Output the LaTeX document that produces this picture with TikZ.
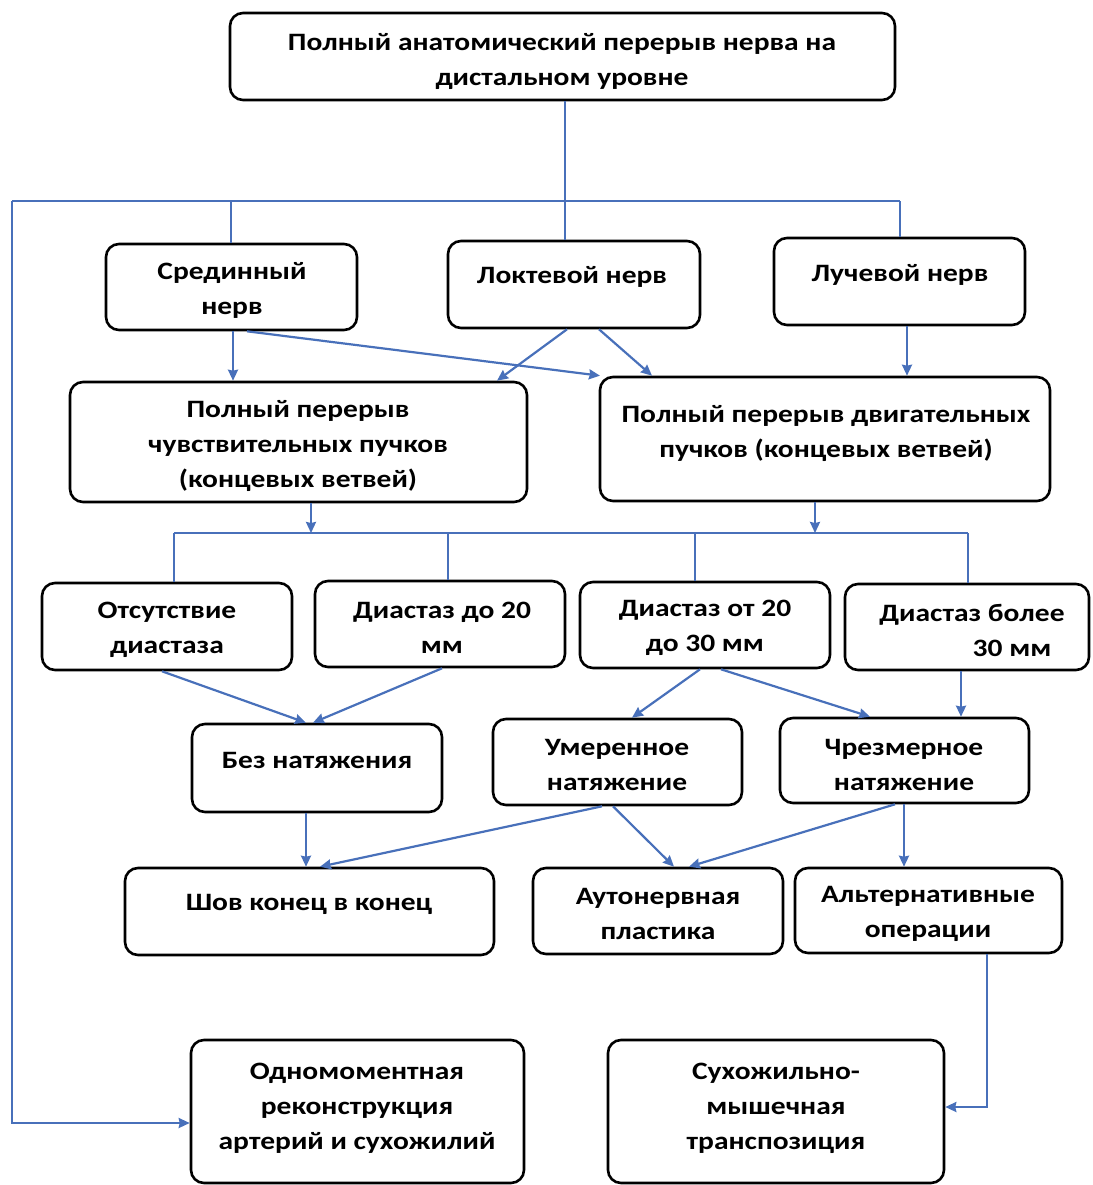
\documentclass[tikz,border=0pt]{standalone}
\usepackage{fontspec}
\setmainfont{Carlito}[FakeStretch=1.18]
\usetikzlibrary{arrows.meta}
\definecolor{conn}{RGB}{72,112,186}
\tikzset{
  box/.style={draw=black, line width=2.6pt, rounded corners=13pt, inner sep=0pt},
  txt/.style={align=center, inner sep=0pt, font=\bfseries\fontsize{25}{35}\selectfont},
  link/.style={draw=conn, line width=2.2pt},
  arr/.style={link, -{Stealth[length=11pt,width=10pt,inset=1pt]}}
}
\newcommand{\bx}[6]{% name, x1, y1, x2, y2
  \node[box, minimum width={#4-#2}, minimum height={#5-#3}] (#1) at ({(#2+#4)/2},{(#3+#5)/2}) {};}
\begin{document}
\begin{tikzpicture}[x=1pt,y=-1pt]
\useasboundingbox (0,0) rectangle (1092,1185);
% boxes
\bx{top}{230}{13}{895}{100}{}
\bx{sred}{106}{244}{357}{330}{}
\bx{lokt}{448}{241}{700}{328}{}
\bx{luch}{774}{238}{1025}{325}{}
\bx{sens}{70}{382}{527}{502}{}
\bx{mot}{600}{377}{1050}{501}{}
\bx{d0}{42}{583}{292}{670}{}
\bx{d20}{315}{581}{565}{667}{}
\bx{d2030}{580}{582}{830}{668}{}
\bx{d30}{845}{584}{1089}{670}{}
\bx{bez}{192}{724}{442}{812}{}
\bx{umer}{493}{719}{742}{805}{}
\bx{chrez}{780}{718}{1029}{803}{}
\bx{shov}{125}{868}{494}{955}{}
\bx{auto}{533}{868}{783}{954}{}
\bx{alt}{795}{868}{1062}{953}{}
\bx{odno}{191}{1040}{524}{1183}{}
\bx{suho}{608}{1040}{944}{1183}{}
% texts
\node[txt] (t-top) at (562,61) {Полный анатомический перерыв нерва на\\дистальном уровне};
\node[txt] (t-sred) at (232,290) {Срединный\\нерв};
\node[txt] (t-lokt) at (572,277) {Локтевой нерв};
\node[txt] (t-luch) at (900,275) {Лучевой нерв};
\node[txt] (t-sens) at (298,446) {Полный перерыв\\чувствительных пучков\\(концевых ветвей)};
\node[txt] (t-mot) at (826,433) {Полный перерыв двигательных\\пучков (концевых ветвей)};
\node[txt] (t-d0) at (167,630) {Отсутствие\\диастаза};
\node[txt] (t-d20) at (442,628) {Диастаз до 20\\мм};
\node[txt] (t-d2030) at (705,628) {Диастаз от 20\\до 30 мм};
\node[txt] (t-d30) at (972,630) {Диастаз более\\\hspace*{80pt}30 мм};
\node[txt] (t-bez) at (317,760) {Без натяжения};
\node[txt] (t-umer) at (617,765) {Умеренное\\натяжение};
\node[txt] (t-chrez) at (904,765) {Чрезмерное\\натяжение};
\node[txt] (t-shov) at (309,904) {Шов конец в конец};
\node[txt] (t-auto) at (658,914) {Аутонервная\\пластика};
\node[txt] (t-alt) at (928,914) {Альтернативные\\операции};
\node[txt] (t-odno) at (357,1108) {Одномоментная\\реконструкция\\артерий и сухожилий};
\node[txt] (t-suho) at (776,1108) {Сухожильно-\\мышечная\\транспозиция};
% level 1 distribution
\coordinate (h1l) at (12,201);
\coordinate (h1r) at (900,201);
\draw[link] (top.south -| 565,0) -- (565,201);
\draw[link] (h1l) -- (h1r);
\draw[link] (231,201) -- (sred.north -| 231,0);
\draw[link] (565,201) -- (lokt.north -| 565,0);
\draw[link] (h1r) -- (luch.north -| 900,0);
% left long connector
\coordinate (lc) at (12,1123);
\draw[arr] (h1l) -- (lc) -- (odno.west |- lc);
% level 2 -> 3
\draw[arr] (sred.south -| 233,0) -- (sens.north -| 233,0);
\draw[arr] (sred.south -| 247,0) -- (mot.north -| 600,0);
\draw[arr] (lokt.south -| 567,0) -- (sens.north -| 497,0);
\draw[arr] (lokt.south -| 599,0) -- (mot.north -| 652,0);
\draw[arr] (luch.south -| 907,0) -- (mot.north -| 907,0);
% level 3 -> distribution
\coordinate (h2l) at (174,533);
\coordinate (h2r) at (968,533);
\draw[arr] (sens.south -| 311,0) -- (311,533);
\draw[arr] (mot.south -| 815,0) -- (815,533);
\draw[link] (h2l) -- (h2r);
\draw[link] (h2l) -- (d0.north -| h2l);
\draw[link] (448,533) -- (d20.north -| 448,0);
\draw[link] (695,533) -- (d2030.north -| 695,0);
\draw[link] (h2r) -- (d30.north -| h2r);
% level 4 -> 5
\draw[arr] (d0.south -| 162,0) -- (bez.north -| 306,0);
\draw[arr] (d20.south -| 442,0) -- (bez.north -| 313,0);
\draw[arr] (d2030.south -| 700,0) -- (umer.north -| 632,0);
\draw[arr] (d2030.south -| 721,0) -- (chrez.north -| 870,0);
\draw[arr] (d30.south -| 961,0) -- (chrez.north -| 961,0);
% level 5 -> 6
\draw[arr] (bez.south -| 306,0) -- (shov.north -| 306,0);
\draw[arr] (umer.south -| 602,0) -- (shov.north -| 320,0);
\draw[arr] (umer.south -| 613,0) -- (auto.north -| 674,0);
\draw[arr] (chrez.south -| 895,0) -- (auto.north -| 689,0);
\draw[arr] (chrez.south -| 904,0) -- (alt.north -| 904,0);
% alt -> suho
\coordinate (rc) at (987,1107);
\draw[arr] (alt.south -| rc) -- (rc) -- (suho.east |- rc);
\end{tikzpicture}
\end{document}
